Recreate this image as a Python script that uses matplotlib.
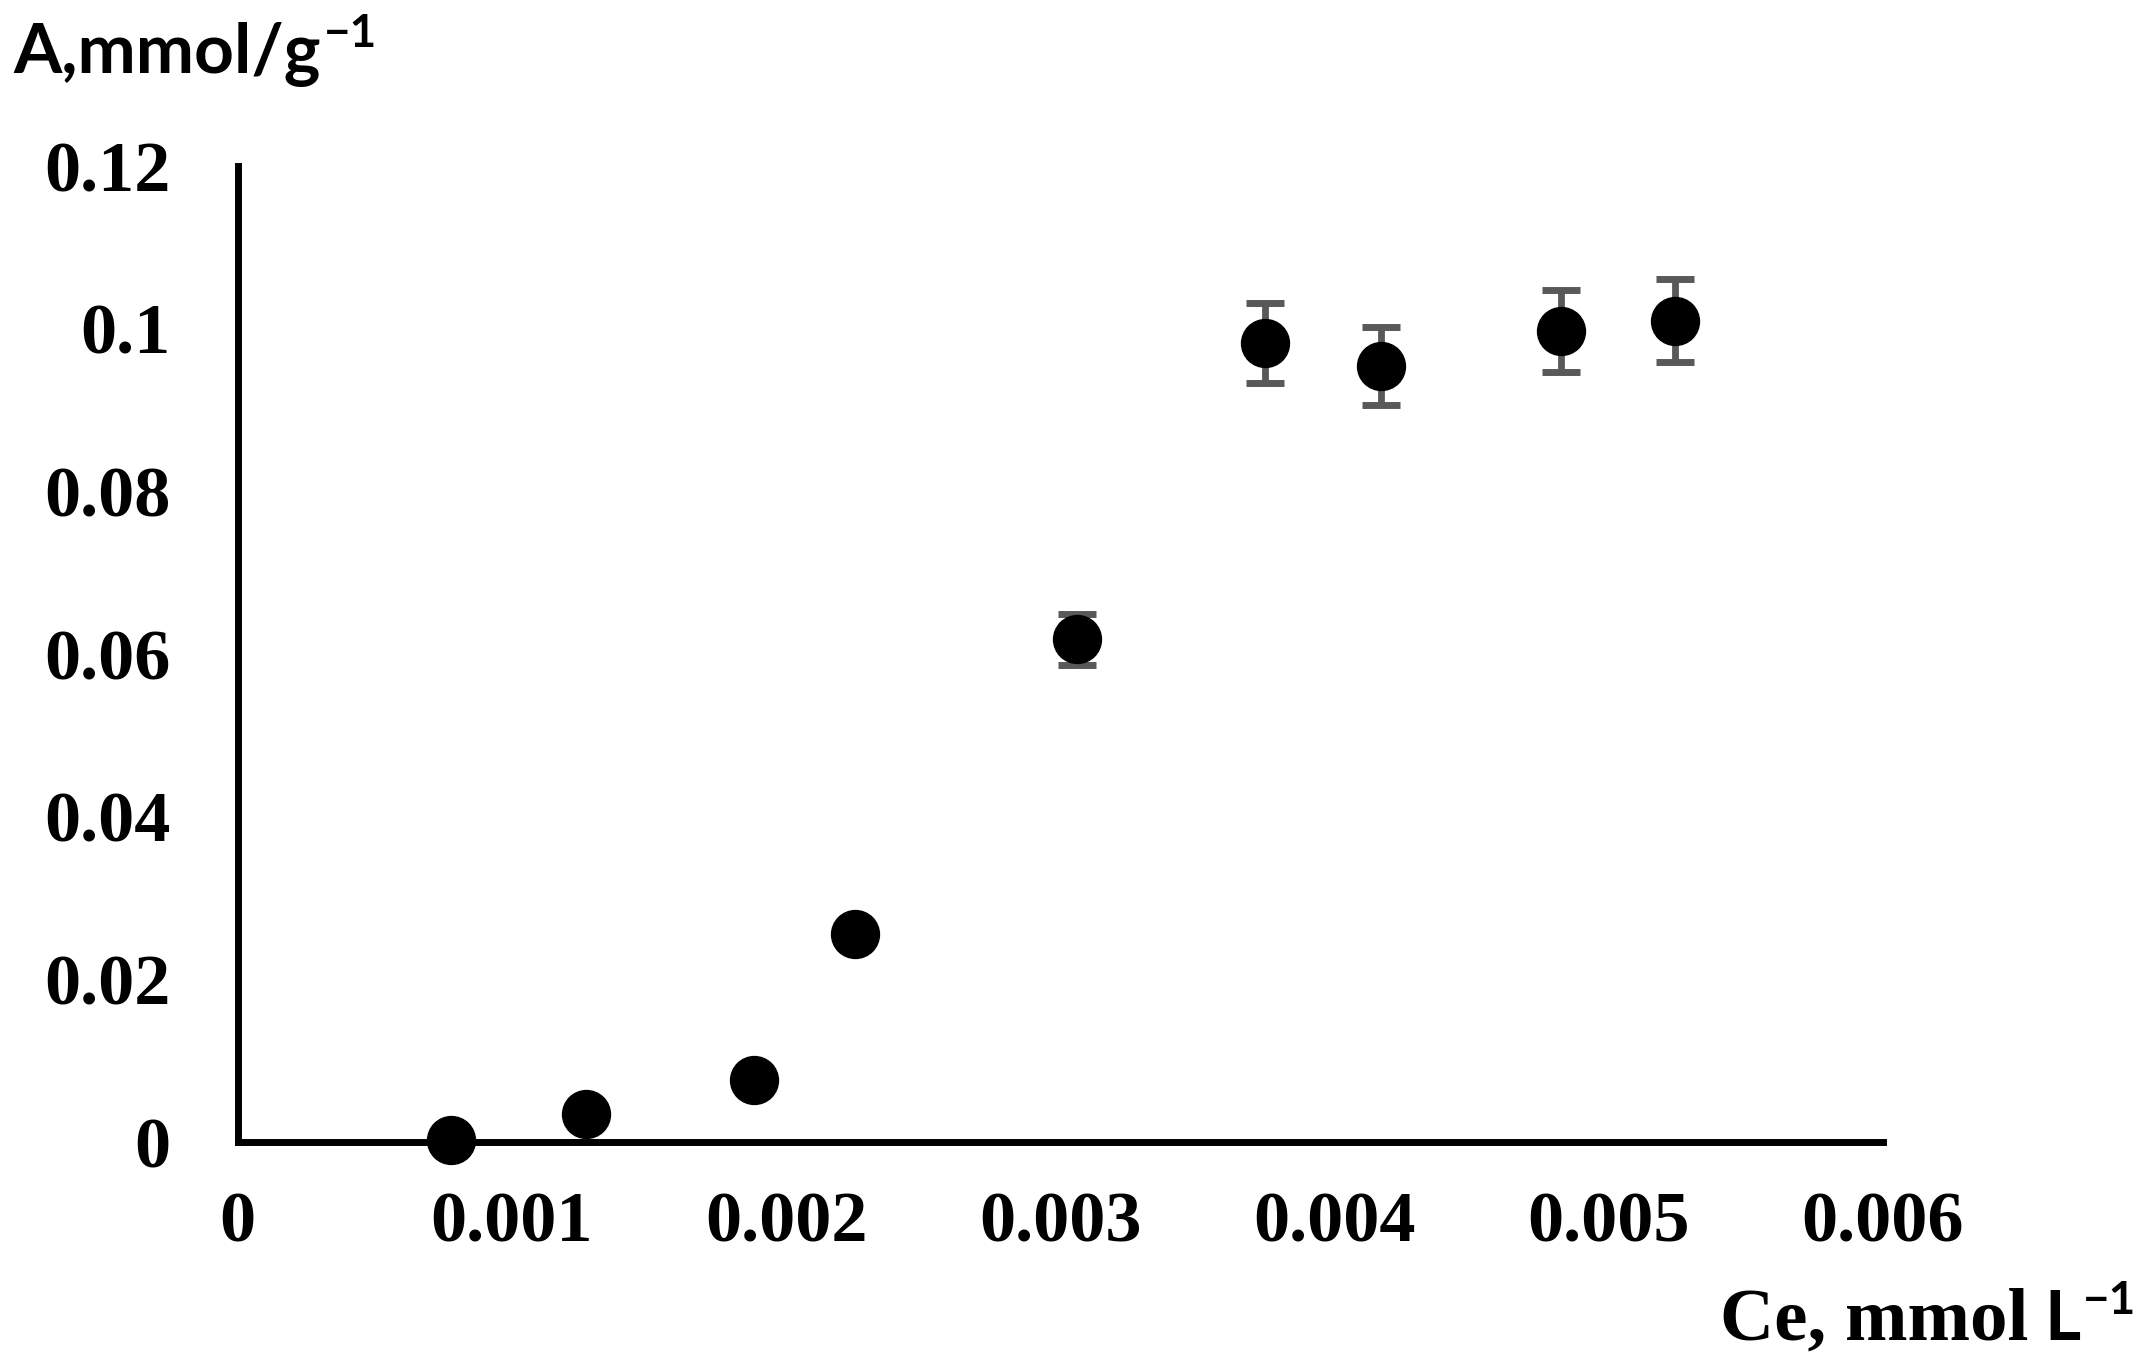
import numpy as np
import matplotlib.pyplot as plt

# Data
ce = [0.000778, 0.00127, 0.001883, 0.002252, 0.00306, 0.003745, 0.004171, 0.004825, 0.005242]
adsorption = [0.0002, 0.0035, 0.0076, 0.0256, 0.0618, 0.0982, 0.0954, 0.0997, 0.1010]
error = [0, 0, 0, 0, 0.0031, 0.0049, 0.0048, 0.0050, 0.0051]

x_ticks = [0, 0.001, 0.002, 0.003, 0.004, 0.005, 0.006]
x_labels = ["0", "0.001", "0.002", "0.003", "0.004", "0.005", "0.006"]
y_ticks = [0, 0.02, 0.04, 0.06, 0.08, 0.1, 0.12]
y_labels = ["0", "0.02", "0.04", "0.06", "0.08", "0.1", "0.12"]

serif = ["Liberation Serif", "DejaVu Serif"]
sans = ["Lato", "DejaVu Sans"]

W, H = 2144, 1372
fig = plt.figure(figsize=(W / 100, H / 100), dpi=100)
ax = fig.add_axes([237.5 / W, 230 / H, (1883 - 237.5) / W, (1142 - 166) / H])

# Error bars (only where present), drawn under the markers
ce_arr = np.array(ce)
a_arr = np.array(adsorption)
err_arr = np.array(error)
has_err = err_arr > 0
ax.errorbar(
    ce_arr[has_err],
    a_arr[has_err],
    yerr=err_arr[has_err],
    fmt="none",
    ecolor="#595959",
    elinewidth=4.9,
    capsize=13.7,
    capthick=5,
    zorder=2,
)

# Markers
ax.plot(
    ce, adsorption,
    linestyle="none",
    marker="o",
    markersize=34.5,
    color="black",
    zorder=3,
    clip_on=False,
)

ax.set_xlim(0, 0.006)
ax.set_ylim(0, 0.12)

for side in ["top", "right"]:
    ax.spines[side].set_visible(False)
for side in ["left", "bottom"]:
    ax.spines[side].set_linewidth(5)
    ax.spines[side].set_color("black")

ax.set_xticks(x_ticks)
ax.set_xticklabels(x_labels)
ax.set_yticks(y_ticks)
ax.set_yticklabels(y_labels)
ax.tick_params(axis="x", length=0, pad=36)
ax.tick_params(axis="y", length=0, pad=48)
for lbl in ax.get_xticklabels() + ax.get_yticklabels():
    lbl.set_family(serif)
    lbl.set_fontweight("bold")
    lbl.set_fontsize(52)

renderer = fig.canvas.get_renderer()

# Y axis title (top left) with a raised "−1"
ylab = fig.text(13 / W, (H - 73) / H, "A,mmol/g",
                family=sans, fontweight="bold", fontsize=50,
                ha="left", va="baseline")
bb = ylab.get_window_extent(renderer=renderer)
fig.text(bb.x1 / W + 3 / W, (H - 73 + 26) / H, "\u22121",
         family=sans, fontweight="bold", fontsize=33,
         ha="left", va="baseline")

# X axis title (bottom right): serif part + sans unit with raised "−1"
base_y = H - 1340
sup = fig.text(2136 / W, (base_y + 26) / H, "\u22121",
               family=sans, fontweight="bold", fontsize=33,
               ha="right", va="baseline")
bb = sup.get_window_extent(renderer=renderer)
unit = fig.text(bb.x0 / W - 2 / W, base_y / H, "L",
                family=sans, fontweight="bold", fontsize=50,
                ha="right", va="baseline")
bb = unit.get_window_extent(renderer=renderer)
fig.text(bb.x0 / W - 16 / W, base_y / H, "Ce, mmol",
         family=serif, fontweight="bold", fontsize=54,
         ha="right", va="baseline")

fig.savefig("out.png", dpi=100, facecolor="white")
